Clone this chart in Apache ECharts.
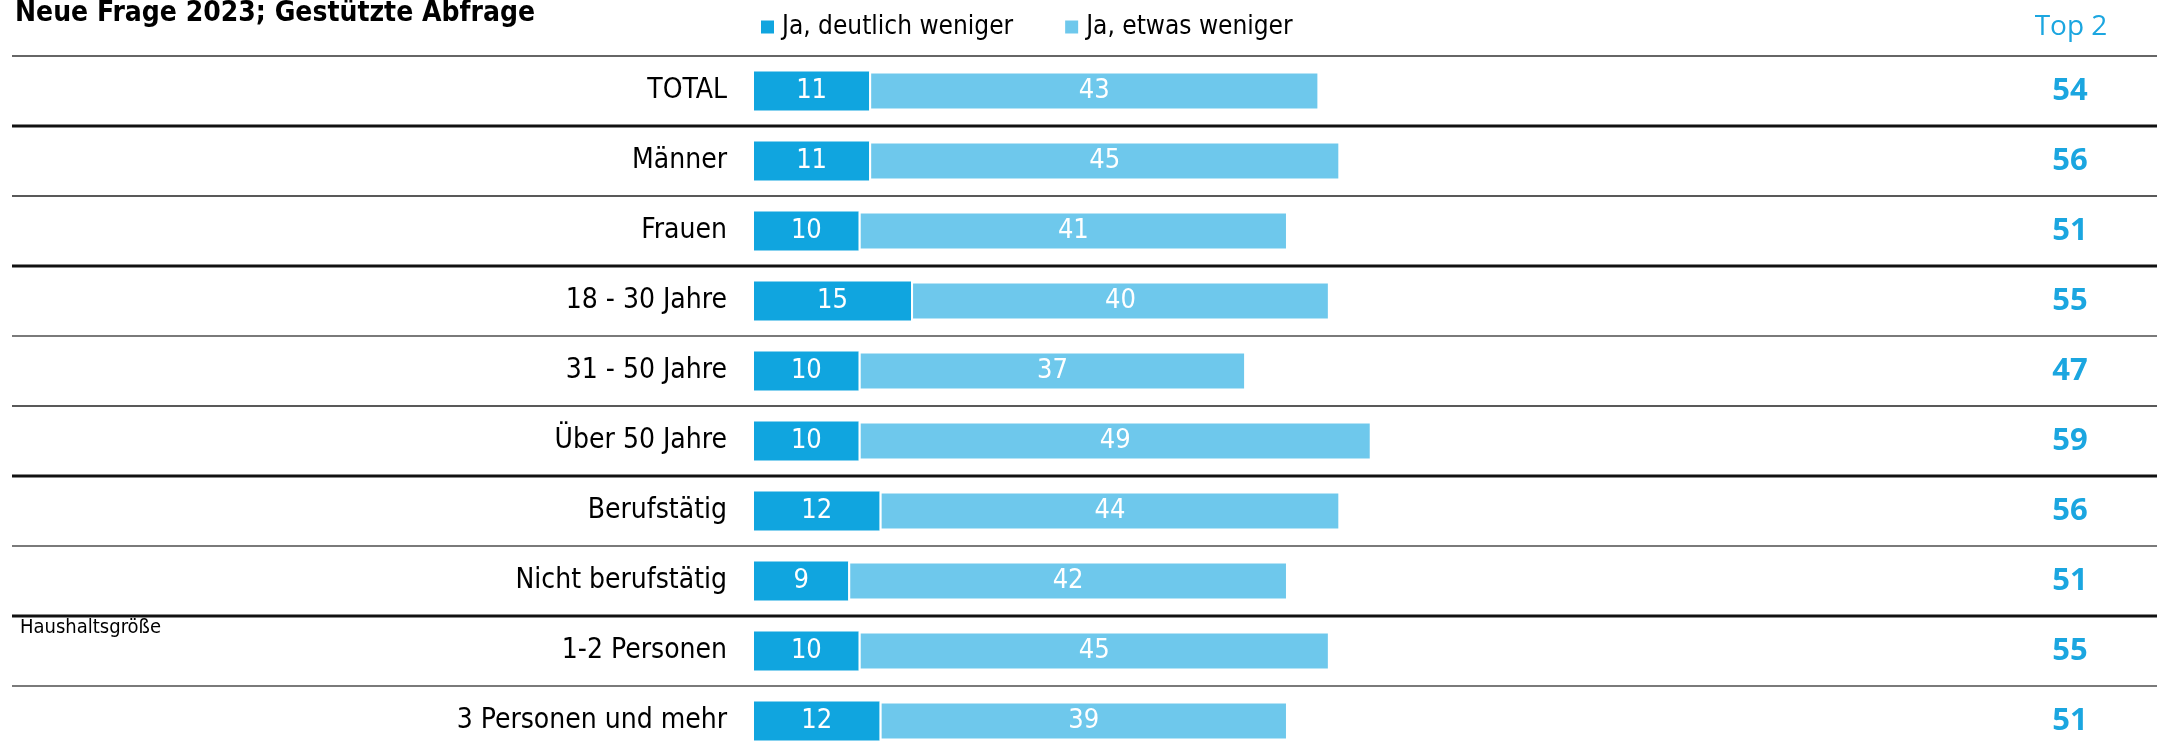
<!DOCTYPE html>
<html>
<head>
<meta charset="utf-8">
<title>Neue Frage 2023</title>
<script src="https://cdn.jsdelivr.net/npm/echarts@6/dist/echarts.min.js"></script>
<style>
  html, body { margin: 0; padding: 0; background: #fff; }
  #main { width: 2157px; height: 746px; }
</style>
</head>
<body>
<div id="main"></div>
<script>
// Werte aus der Vorlage
const categories = ['TOTAL', 'Männer', 'Frauen', '18 - 30 Jahre', '31 - 50 Jahre', 'Über 50 Jahre', 'Berufstätig', 'Nicht berufstätig', '1-2 Personen', '3 Personen und mehr']
const deutlichWeniger = [11, 11, 10, 15, 10, 10, 12, 9, 10, 12]
const etwasWeniger = [43, 45, 41, 40, 37, 49, 44, 42, 45, 39]
const top2 = [54, 56, 51, 55, 47, 59, 56, 51, 55, 51]
const seriesNames = ['Ja, deutlich weniger', 'Ja, etwas weniger']

// Trennlinie oberhalb jeder Zeile: top / thick / thin / grey
const lineKinds = ['top', 'thick', 'thin', 'thick', 'grey', 'thin', 'thick', 'grey', 'thick', 'grey']

const COND = "'DejaVu Sans Condensed', 'DejaVu Sans', sans-serif"
const DARK = '#10a5df'
const LIGHT = '#6ec8ec'
const ACCENT = '#1ba6e0'

const chartObj = echarts.init(document.getElementById('main'), null, { renderer: 'canvas' })

const option = {
  backgroundColor: '#fff',
  animation: false,
  color: [DARK, LIGHT],
  legend: {
    data: seriesNames,
    left: 761,
    top: 14,
    padding: 0,
    icon: 'rect',
    itemWidth: 13,
    itemHeight: 13,
    itemGap: 52,
    itemStyle: { borderWidth: 0 },
    textStyle: {
      fontFamily: COND,
      fontSize: 26,
      color: '#000',
      padding: [0, 0, 0, 3]
    }
  },
  grid: {
    left: 754,
    top: 56,
    width: 1047,
    height: 700,
    containLabel: false,
    outerBoundsMode: 'none'
  },
  xAxis: {
    type: 'value',
    min: 0,
    max: 100,
    show: false
  },
  yAxis: [
    {
      type: 'category',
      data: categories,
      inverse: true,
      axisLine: { show: false },
      axisTick: { show: false },
      splitLine: { show: false },
      axisLabel: {
        margin: 27,
        color: '#000',
        fontFamily: COND,
        fontSize: 28
      }
    },
    {
      type: 'category',
      data: categories,
      inverse: true,
      position: 'right',
      axisLine: { show: false },
      axisTick: { show: false },
      splitLine: { show: false },
      axisLabel: {
        margin: 269,
        align: 'center',
        color: ACCENT,
        fontFamily: "'Open Sans', sans-serif",
        fontWeight: 'bold',
        fontSize: 31,
        formatter: (value, index) => String(top2[index])
      }
    }
  ],
  series: [
    {
      name: seriesNames[0],
      type: 'bar',
      stack: 'total',
      barWidth: 39,
      data: deutlichWeniger,
      itemStyle: { color: DARK },
      label: {
        show: true,
        position: 'inside',
        color: '#fff',
        fontFamily: COND,
        fontSize: 27
      }
    },
    {
      name: seriesNames[1],
      type: 'bar',
      stack: 'total',
      barWidth: 39,
      data: etwasWeniger,
      itemStyle: { color: LIGHT, borderColor: '#fff', borderWidth: 2 },
      label: {
        show: true,
        position: 'inside',
        color: '#fff',
        fontFamily: COND,
        fontSize: 27
      }
    }
  ]
}

chartObj.setOption(option)

// Trennlinien und Zusatztexte aus der Achsenposition berechnen
const c0 = chartObj.convertToPixel({ yAxisIndex: 0 }, 0)
const c1 = chartObj.convertToPixel({ yAxisIndex: 0 }, 1)
const band = c1 - c0
const lineStyles = {
  top: { stroke: '#333', lineWidth: 1.5 },
  thick: { stroke: '#111', lineWidth: 3 },
  thin: { stroke: '#222', lineWidth: 1.5 },
  grey: { stroke: '#7a7a7a', lineWidth: 2 }
}

const graphics = []
lineKinds.forEach((kind, i) => {
  const y = Math.round(chartObj.convertToPixel({ yAxisIndex: 0 }, i) - band / 2)
  graphics.push({
    type: 'line',
    shape: { x1: 12, y1: y, x2: 2157, y2: y },
    style: lineStyles[kind],
    silent: true
  })
})

const hhTop = chartObj.convertToPixel({ yAxisIndex: 0 }, 8) - band / 2
graphics.push({
  type: 'text',
  x: 20,
  y: hhTop + 12,
  style: {
    text: 'Haushaltsgröße',
    fontFamily: COND,
    fontSize: 20,
    fill: '#000',
    verticalAlign: 'middle'
  }
})

graphics.push({
  type: 'text',
  x: 15,
  y: 14,
  style: {
    text: 'Neue Frage 2023; Gestützte Abfrage',
    fontFamily: COND,
    fontWeight: 'bold',
    fontSize: 28,
    fill: '#000',
    verticalAlign: 'middle'
  }
})

graphics.push({
  type: 'text',
  x: 2071,
  y: 27,
  style: {
    text: 'Top 2',
    fontFamily: "'Open Sans', sans-serif",
    fontSize: 28,
    fill: ACCENT,
    align: 'center',
    verticalAlign: 'middle'
  }
})

chartObj.setOption({ graphic: graphics })
</script>
</body>
</html>
